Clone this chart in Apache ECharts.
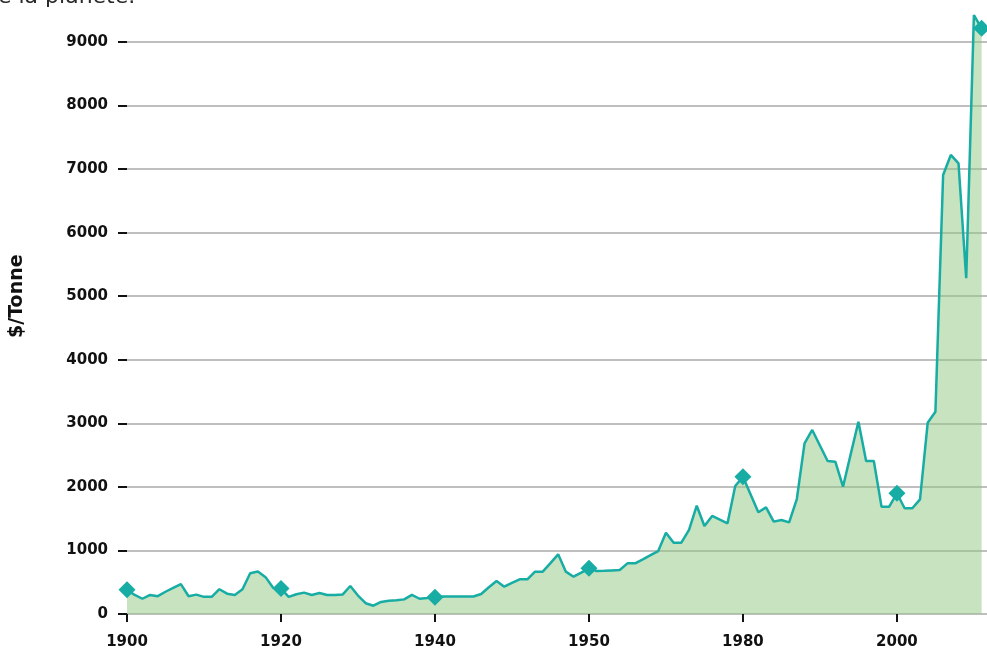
<!DOCTYPE html>
<html>
<head>
<meta charset="utf-8">
<script src="https://cdn.jsdelivr.net/npm/echarts@6/dist/echarts.min.js"></script>
<style>html,body{margin:0;padding:0;background:#fff}#c{width:987px;height:654px}</style>
</head>
<body>
<div id="c"></div>
<script>
const titleText = 'de la planète.';
const yAxisName = '$/Tonne';
const years = [];
for (let y = 1900; y <= 2011; y++) years.push(y);
const prices = [
  380, 300, 240, 300, 280, 350, 410, 470, 280, 305,
  270, 270, 390, 320, 300, 390, 640, 670, 580, 410,
  400, 270, 310, 336, 300, 330, 300, 300, 305, 440,
  290, 170, 130, 190, 210, 215, 230, 300, 240, 250,
  265, 275, 275, 275, 275, 275, 315, 420, 519, 430,
  490, 546, 546, 666, 666, 800, 939, 666, 587, 650,
  719, 676, 680, 686, 692, 797, 797, 860, 925, 990,
  1280, 1122, 1122, 1322, 1704, 1385, 1542, 1485, 1427, 2014,
  2160, 1880, 1600, 1678, 1453, 1479, 1442, 1809, 2685, 2895,
  2650, 2407, 2396, 2003, 2515, 3026, 2407, 2407, 1689, 1689,
  1899, 1663, 1663, 1804, 3010, 3183, 6907, 7222, 7090, 5282,
  9424, 9214
];
const markerYears = [1900, 1920, 1940, 1960, 1980, 2000, 2011];
const xTickValues = [1900, 1920, 1940, 1960, 1980, 2000];
const xTickLabels = ['1900', '1920', '1940', '1950', '1980', '2000'];

const lineColor = '#17aca4';
const font = 'DejaVu Sans';

const seriesData = years.map((y, i) => ({
  value: [y, prices[i]],
  symbol: markerYears.includes(y) ? 'diamond' : 'none'
}));

const chart = echarts.init(document.getElementById('c'), null, {renderer: 'canvas'});
chart.setOption({
  animation: false,
  backgroundColor: '#ffffff',
  graphic: [{
    type: 'text', left: -16, top: -14,
    style: {text: titleText, font: '22px "DejaVu Sans"', fill: '#2a2a2a'}
  }],
  grid: {left: 127, right: 0, top: -21.6, bottom: 40, containLabel: false, outerBoundsMode: 'none'},
  xAxis: {
    type: 'value', min: 1900, max: 2011.7,
    axisLine: {show: false},
    splitLine: {show: false},
    axisTick: {show: true, length: 8, lineStyle: {color: '#111', width: 2}, customValues: xTickValues},
    axisLabel: {
      customValues: xTickValues,
      margin: 21, color: '#111', fontFamily: font, fontSize: 15, fontWeight: 'bold',
      formatter: v => xTickLabels[xTickValues.indexOf(v)] || ''
    }
  },
  yAxis: {
    type: 'value', min: 0, max: 10000, interval: 1000,
    name: yAxisName, nameLocation: 'middle', nameGap: 100, nameRotate: 90,
    nameTextStyle: {color: '#111', fontFamily: font, fontSize: 19, fontWeight: 'bold'},
    axisLine: {show: false},
    axisTick: {show: true, length: 9, lineStyle: {color: '#111', width: 2}},
    axisLabel: {margin: 19, color: '#111', fontFamily: font, fontSize: 15, fontWeight: 'bold', formatter: v => String(v)},
    splitLine: {show: true, lineStyle: {color: '#aaaaaa', width: 1.5}}
  },
  series: [{
    type: 'line',
    data: seriesData,
    symbolSize: 17,
    itemStyle: {color: lineColor},
    lineStyle: {color: lineColor, width: 2.5},
    areaStyle: {color: 'rgb(146,200,130)', opacity: 0.5},
    emphasis: {disabled: true}
  }]
});
</script>
</body>
</html>
